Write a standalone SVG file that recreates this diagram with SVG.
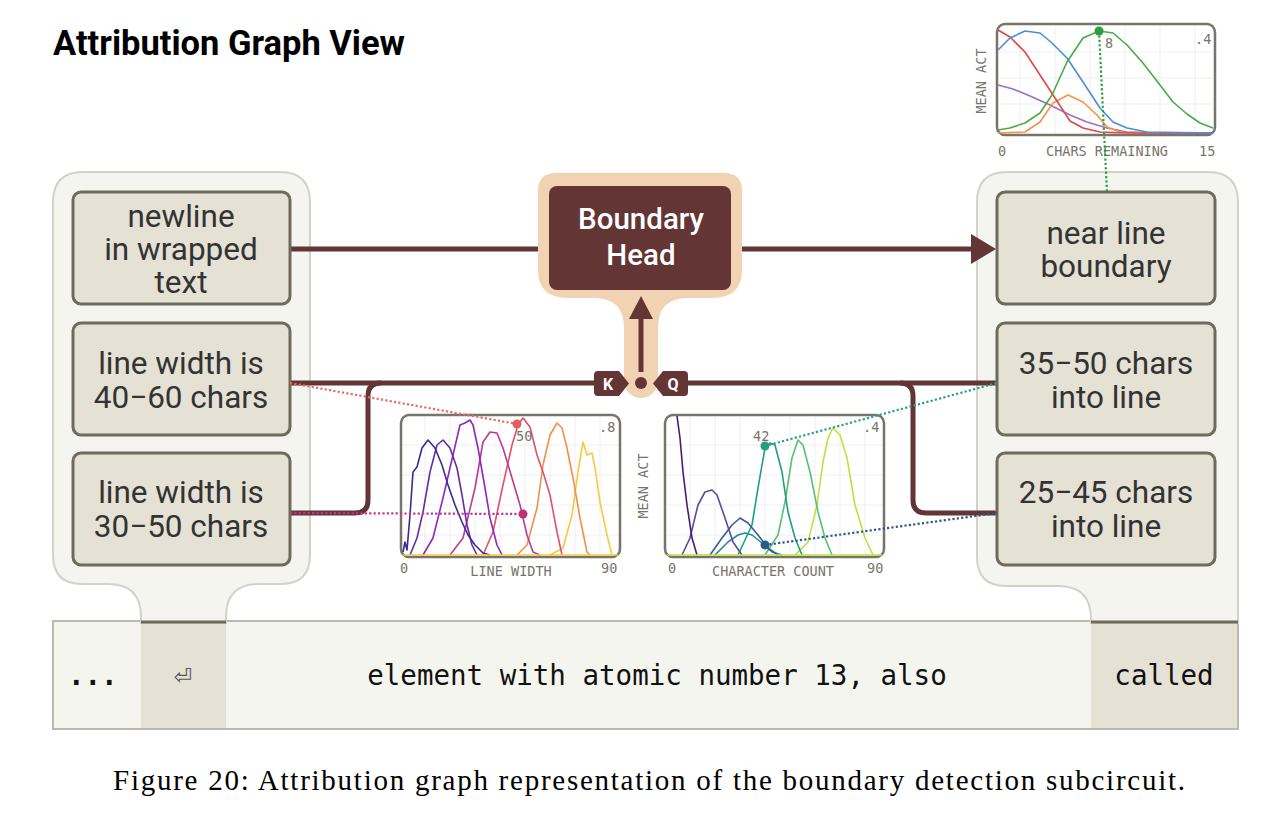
<svg xmlns="http://www.w3.org/2000/svg" width="1278" height="816" viewBox="0 0 1278 816">
<defs>
<style>
.panel{fill:#f5f5f0;stroke:#d3d1c8;stroke-width:2}
.node rect{fill:#e5e1d5;stroke:#6e6b5c;stroke-width:3}
.node text{font-family:Roboto,"Noto Sans",sans-serif;font-size:31.5px;fill:#333;text-anchor:middle}
.conn{fill:none;stroke:#633535;stroke-width:5}
.frame{fill:#fff;stroke:#77746a;stroke-width:2.5}
.grid{stroke:#efefef;stroke-width:1}
.ax{font-family:"DejaVu Sans Mono",monospace;font-size:13.5px;fill:#77746a}
.cv{fill:none;stroke-width:1.6;stroke-linejoin:round}
.dot{fill:none;stroke-width:2.2;stroke-dasharray:2.2 2.2}
.tok{font-family:"DejaVu Sans Mono",monospace;font-size:27.5px;fill:#111}
.bh{font-family:Roboto,"Noto Sans",sans-serif;font-weight:500;font-size:29.5px;fill:#fff;text-anchor:middle}
</style>
<marker id="ah" markerWidth="6" markerHeight="6" refX="1" refY="3" orient="auto" markerUnits="strokeWidth">
<path d="M0,0 L5,3 L0,6 Z" fill="#633535"/>
</marker>
</defs>
<rect width="1278" height="816" fill="#fff"/>
<text x="53" y="55" font-family="Roboto,'Noto Sans',sans-serif" font-weight="700" font-size="34.5" fill="#000">Attribution Graph View</text>

<!-- token bar -->
<g id="tokens">
<rect x="53" y="621" width="1185" height="108" fill="#f5f5f0" stroke="#bcb9b0" stroke-width="2"/>
<rect x="141" y="622" width="85" height="106" fill="#e5e1d5"/>
<rect x="1091" y="622" width="146" height="106" fill="#e5e1d5"/>
<text class="tok" x="68" y="685" font-weight="700">...</text>
<text x="183" y="684" font-family="'DejaVu Sans',sans-serif" font-size="22" fill="#555" text-anchor="middle">⏎</text>
<text class="tok" x="657" y="685" text-anchor="middle">element with atomic number 13, also</text>
<text class="tok" x="1164" y="685" text-anchor="middle">called</text>
</g>

<!-- panels -->
<g id="left-panel">
<path class="panel" d="M83,172 H280 Q310,172 310,202 V555 Q310,584 281,584 H259 Q226,584 226,617 V623 H141 V617 Q141,584 108,584 H82 Q53,584 53,555 V202 Q53,172 83,172 Z"/>
<line x1="141" y1="622" x2="226" y2="622" stroke="#6e6b5c" stroke-width="3"/>
</g>
<g id="right-panel">
<path class="panel" d="M1007,172 H1208 Q1238,172 1238,202 V623 H1091 V619 Q1091,586 1058,586 H1006 Q977,586 977,557 V202 Q977,172 1007,172 Z"/>
<line x1="1091" y1="622" x2="1238" y2="622" stroke="#6e6b5c" stroke-width="3"/>
</g>

<!-- connectors -->
<g id="connectors">
<path class="conn" d="M290,249 H549"/>
<path class="conn" d="M731,249 H976" marker-end="url(#ah)"/>
<path class="conn" d="M290,383 H596"/>
<path class="conn" d="M290,513 H355 Q368,513 368,500 V396 Q368,383 381,383"/>
<path class="conn" d="M688,383 H997"/>
<path class="conn" d="M900,383 Q913,383 913,396 V500 Q913,513 926,513 H997"/>
</g>

<!-- boundary head -->
<g id="boundary-head">
<path fill="#f1d3b3" d="M556,173 H724 Q742,173 742,191 V270 Q742,298 712,298 H688 Q658,298 658,328 V381 A17,17 0 0 1 624,381 V328 Q624,298 594,298 H568 Q538,298 538,270 V191 Q538,173 556,173 Z"/>
<rect x="549" y="186" width="182" height="104" rx="8" fill="#633535"/>
<text class="bh" x="641" y="229">Boundary</text>
<text class="bh" x="641" y="265">Head</text>
<line x1="641" y1="372" x2="641" y2="316" stroke="#633535" stroke-width="5"/>
<path d="M629,319 L641,296 L653,319 Z" fill="#633535"/>
<circle cx="641" cy="383" r="6" fill="#633535"/>
<path d="M598,371 H619 L629,383.5 L619,396 H598 Q594,396 594,392 V375 Q594,371 598,371 Z" fill="#633535"/>
<text x="608" y="390" font-family="Roboto,'Noto Sans',sans-serif" font-weight="700" font-size="16" fill="#fff" text-anchor="middle">K</text>
<path d="M684,371 H663 L653,383.5 L663,396 H684 Q688,396 688,392 V375 Q688,371 684,371 Z" fill="#633535"/>
<text x="673" y="390" font-family="Roboto,'Noto Sans',sans-serif" font-weight="700" font-size="16" fill="#fff" text-anchor="middle">Q</text>
</g>

<!-- nodes -->
<g id="node-newline" class="node">
<rect x="73" y="192" width="217" height="112" rx="8"/>
<text x="181" y="227">newline</text><text x="181" y="260">in wrapped</text><text x="181" y="293">text</text>
</g>
<g id="node-lw4060" class="node">
<rect x="73" y="323" width="217" height="112" rx="8"/>
<text x="181" y="374">line width is</text><text x="181" y="408">40−60 chars</text>
</g>
<g id="node-lw3050" class="node">
<rect x="73" y="453" width="217" height="112" rx="8"/>
<text x="181" y="503">line width is</text><text x="181" y="537">30−50 chars</text>
</g>
<g id="node-near" class="node">
<rect x="997" y="192" width="218" height="112" rx="8"/>
<text x="1106" y="244">near line</text><text x="1106" y="277">boundary</text>
</g>
<g id="node-3550" class="node">
<rect x="997" y="323" width="218" height="112" rx="8"/>
<text x="1106" y="374">35−50 chars</text><text x="1106" y="408">into line</text>
</g>
<g id="node-2545" class="node">
<rect x="997" y="453" width="218" height="112" rx="8"/>
<text x="1106" y="503">25−45 chars</text><text x="1106" y="537">into line</text>
</g>

<!-- top chart -->
<g id="chart-chars-remaining">
<rect class="frame" x="997" y="24" width="218" height="111" rx="8"/>
<g class="grid"><line x1="1020" y1="26" x2="1020" y2="133"/><line x1="1055" y1="26" x2="1055" y2="133"/><line x1="1090" y1="26" x2="1090" y2="133"/><line x1="1125" y1="26" x2="1125" y2="133"/><line x1="1160" y1="26" x2="1160" y2="133"/><line x1="1195" y1="26" x2="1195" y2="133"/><line x1="999" y1="52" x2="1213" y2="52"/><line x1="999" y1="78" x2="1213" y2="78"/><line x1="999" y1="104" x2="1213" y2="104"/></g>
<polyline class="cv" stroke="#9a70c8" points="998,85 1013,89 1030,96 1050,105 1070,115 1087,122 1107,128 1127,132 1160,133 1213,133"/>
<polyline class="cv" stroke="#f0954a" points="998,133 1025,132 1040,122 1053,103 1068,95 1083,102 1097,115 1107,127 1120,132 1147,133"/>
<polyline class="cv" stroke="#e04848" points="998,30 1010,37 1025,52 1040,75 1055,98 1070,121 1083,128 1100,132 1127,133 1213,133"/>
<polyline class="cv" stroke="#4a90d0" points="998,50 1010,38 1025,31 1040,33 1052,43 1067,58 1083,82 1100,108 1113,122 1127,128 1147,132 1213,133"/>
<polyline class="cv" stroke="#4aaa4a" points="998,130 1010,128 1025,123 1040,113 1052,95 1067,62 1083,38 1099,31 1113,33 1127,45 1143,63 1160,85 1173,102 1187,114 1200,123 1213,128"/>
<text class="ax" x="1195" y="44">.4</text>
<text class="ax" x="1105" y="48">8</text>
<text class="ax" x="998" y="156">0</text>
<text class="ax" x="1107" y="156" text-anchor="middle">CHARS REMAINING</text>
<text class="ax" x="1199" y="156">15</text>
<text class="ax" transform="translate(986,81) rotate(-90)" text-anchor="middle">MEAN ACT</text>
<path class="dot" stroke="#2aa040" d="M1099,31 L1107,192"/>
<circle cx="1099" cy="31" r="4.5" fill="#2aa040"/>
</g>

<!-- line width chart -->
<g id="chart-line-width">
<rect class="frame" x="401" y="415" width="219" height="142" rx="8"/>
<g class="grid"><line x1="425" y1="417" x2="425" y2="555"/><line x1="450" y1="417" x2="450" y2="555"/><line x1="475" y1="417" x2="475" y2="555"/><line x1="500" y1="417" x2="500" y2="555"/><line x1="525" y1="417" x2="525" y2="555"/><line x1="550" y1="417" x2="550" y2="555"/><line x1="575" y1="417" x2="575" y2="555"/><line x1="600" y1="417" x2="600" y2="555"/><line x1="403" y1="445" x2="618" y2="445"/><line x1="403" y1="475" x2="618" y2="475"/><line x1="403" y1="505" x2="618" y2="505"/><line x1="403" y1="535" x2="618" y2="535"/></g>
<polyline class="cv" stroke="#f8c840" points="550,555 563,548 572,515 578,472 583,442 587,455 592,453 595,468 600,502 607,535 612,555"/>
<polyline class="cv" stroke="#f0904a" points="517,555 527,545 537,508 543,465 550,435 557,423 562,428 567,448 573,478 580,518 587,552 590,555"/>
<polyline class="cv" stroke="#e0506a" points="483,555 493,532 503,485 512,445 518,425 523,418 530,427 537,455 543,472 550,495 557,532 562,555"/>
<polyline class="cv" stroke="#b83a9a" points="450,555 463,538 475,488 483,442 490,432 497,433 503,448 512,478 520,505 527,535 533,552 540,555"/>
<polyline class="cv" stroke="#8a2ab8" points="423,555 433,538 443,498 453,455 460,425 465,423 470,420 473,425 478,448 485,488 490,518 497,545 502,555"/>
<polyline class="cv" stroke="#6a2aa0" points="410,555 417,538 423,512 430,472 437,445 443,440 450,448 457,468 462,495 467,525 472,545 477,555"/>
<polyline class="cv" stroke="#3a2a9a" points="403,552 405,542 407,550 410,515 413,472 417,467 422,448 428,440 435,448 442,465 448,485 455,505 462,522 468,535 475,545 483,553 490,555"/>
<line x1="403" y1="555" x2="618" y2="555" stroke="#f8c840" stroke-width="1.5"/>
<text class="ax" x="599" y="432">.8</text>
<text class="ax" x="516" y="441">50</text>
<text class="ax" x="400" y="573">0</text>
<text class="ax" x="511" y="576" text-anchor="middle">LINE WIDTH</text>
<text class="ax" x="601" y="573">90</text>
</g>

<!-- character count chart -->
<g id="chart-char-count">
<rect class="frame" x="665" y="415" width="219" height="142" rx="8"/>
<g class="grid"><line x1="690" y1="417" x2="690" y2="555"/><line x1="715" y1="417" x2="715" y2="555"/><line x1="740" y1="417" x2="740" y2="555"/><line x1="765" y1="417" x2="765" y2="555"/><line x1="790" y1="417" x2="790" y2="555"/><line x1="815" y1="417" x2="815" y2="555"/><line x1="840" y1="417" x2="840" y2="555"/><line x1="865" y1="417" x2="865" y2="555"/><line x1="667" y1="445" x2="882" y2="445"/><line x1="667" y1="475" x2="882" y2="475"/><line x1="667" y1="505" x2="882" y2="505"/><line x1="667" y1="535" x2="882" y2="535"/></g>
<polyline class="cv" stroke="#c0e040" points="795,555 808,542 817,505 823,462 828,438 833,428 840,435 847,458 855,505 865,538 873,555"/>
<polyline class="cv" stroke="#5ac070" points="765,555 778,535 785,502 792,458 798,440 803,445 810,472 818,512 825,538 832,555"/>
<polyline class="cv" stroke="#20a080" points="738,555 752,525 758,488 765,448 770,443 775,445 782,472 788,512 795,538 802,555"/>
<polyline class="cv" stroke="#2a8a9a" points="715,555 728,542 738,535 745,533 752,535 762,543 772,552 782,555"/>
<polyline class="cv" stroke="#3a5a9a" points="710,555 722,538 732,525 740,518 748,523 758,535 768,548 778,555"/>
<polyline class="cv" stroke="#5a4aa0" points="682,555 690,538 698,505 705,492 712,490 717,495 725,518 733,542 742,555"/>
<polyline class="cv" stroke="#4a1a70" points="677,416 680,438 683,472 687,505 692,538 697,555"/>
<line x1="667" y1="555" x2="882" y2="555" stroke="#c0e040" stroke-width="1.5"/>
<text class="ax" x="863" y="432">.4</text>
<text class="ax" x="753" y="441">42</text>
<text class="ax" x="668" y="573">0</text>
<text class="ax" x="773" y="576" text-anchor="middle">CHARACTER COUNT</text>
<text class="ax" x="867" y="573">90</text>
<text class="ax" transform="translate(648,486) rotate(-90)" text-anchor="middle">MEAN ACT</text>
</g>

<!-- dotted feature links -->
<g id="feature-links">
<path class="dot" stroke="#e86a6a" d="M290,383 L517,424"/>
<path class="dot" stroke="#c03a8a" d="M290,513 L523,514"/>
<path class="dot" stroke="#2aa08a" d="M765,446 L997,383"/>
<path class="dot" stroke="#2a5a8a" d="M765,545 L997,513"/>
<circle cx="517" cy="424" r="4.5" fill="#e06060"/>
<circle cx="523" cy="514" r="4.5" fill="#c0307a"/>
<circle cx="765" cy="446" r="4.5" fill="#20a080"/>
<circle cx="765" cy="545" r="4.5" fill="#2a5a8a"/>
</g>

<text x="113" y="790" font-family="'Liberation Serif',serif" font-size="29" fill="#000" textLength="1072" lengthAdjust="spacing">Figure 20: Attribution graph representation of the boundary detection subcircuit.</text>
</svg>
